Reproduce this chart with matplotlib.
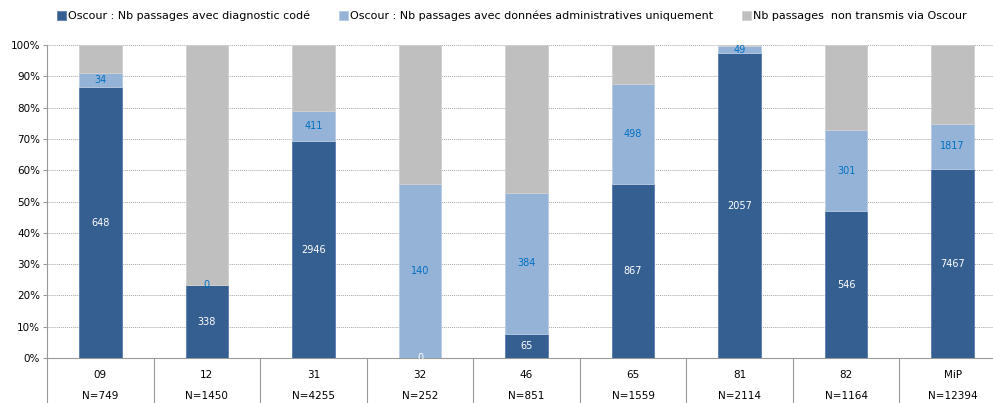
import numpy as np
import matplotlib.pyplot as plt
from matplotlib.transforms import blended_transform_factory

# Data
categories = ["09", "12", "31", "32", "46", "65", "81", "82", "MiP"]
totals = [749, 1450, 4255, 252, 851, 1559, 2114, 1164, 12394]
coded = [648, 338, 2946, 0, 65, 867, 2057, 546, 7467]
admin_only = [34, 0, 411, 140, 384, 498, 49, 301, 1817]

series_names = [
    "Oscour : Nb passages avec diagnostic codé",
    "Oscour : Nb passages avec données administratives uniquement",
    "Nb passages  non transmis via Oscour",
]
colors = ["#365F91", "#95B3D7", "#BFBFBF"]

totals = np.array(totals, float)
coded = np.array(coded, float)
admin_only = np.array(admin_only, float)
not_sent = totals - coded - admin_only

p_coded = coded / totals
p_admin = admin_only / totals
p_not = not_sent / totals

fig = plt.figure(figsize=(9.93, 4.03), dpi=100)
ax = fig.add_axes([47 / 993, 45 / 403, 959 / 993, 313 / 403])

x = np.arange(len(categories))
w = 0.4
b1 = ax.bar(x, p_coded, w, color=colors[0], edgecolor="#5A7DB0", linewidth=0.6, label=series_names[0], zorder=3)
b2 = ax.bar(x, p_admin, w, bottom=p_coded, color=colors[1], edgecolor="#B8CCE4", linewidth=0.6, label=series_names[1], zorder=3)
b3 = ax.bar(x, p_not, w, bottom=p_coded + p_admin, color=colors[2], edgecolor="#D0D0D0", linewidth=0.6, label=series_names[2], zorder=3)

# data labels for the two Oscour series
for i in range(len(categories)):
    ax.text(x[i], p_coded[i] / 2, f"{int(coded[i])}", ha="center", va="center",
            color="white", fontsize=7, zorder=4)
    ax.text(x[i], p_coded[i] + p_admin[i] / 2, f"{int(admin_only[i])}", ha="center", va="center",
            color="#0070C0", fontsize=7, zorder=4)

ax.set_xlim(-0.5, len(categories) - 0.5)
ax.set_ylim(0, 1)
ax.set_yticks(np.arange(0, 1.01, 0.1))
ax.set_yticklabels([f"{int(round(v * 100))}%" for v in np.arange(0, 1.01, 0.1)], fontsize=7.5)
ax.yaxis.grid(True, linestyle=(0, (1, 1)), color="#A6A6A6", linewidth=0.7, zorder=0)
ax.set_xticks([])

for s in ["top", "right"]:
    ax.spines[s].set_visible(False)
ax.spines["left"].set_color("#999999")
ax.spines["bottom"].set_color("#999999")
ax.tick_params(axis="y", length=3, color="#999999", pad=2)

# category table under the axis
trans = blended_transform_factory(ax.transData, ax.transAxes)
for k in range(len(categories) + 1):
    ax.plot([k - 0.5, k - 0.5], [0, -0.16], transform=trans, color="#999999",
            linewidth=0.8, clip_on=False)
for i, cat in enumerate(categories):
    ax.text(i, -0.055, cat, transform=trans, ha="center", va="center", fontsize=7.5)
    ax.text(i, -0.123, f"N={int(totals[i])}", transform=trans, ha="center", va="center", fontsize=7.5)

fig.legend(handles=[b1, b2, b3], labels=series_names, loc="center", bbox_to_anchor=(512 / 993, 1 - 16 / 403),
           ncol=3, frameon=False, fontsize=8, handlelength=0.8, handleheight=0.8,
           handletextpad=0.2, columnspacing=2.6)

fig.savefig("out.png", dpi=100)
